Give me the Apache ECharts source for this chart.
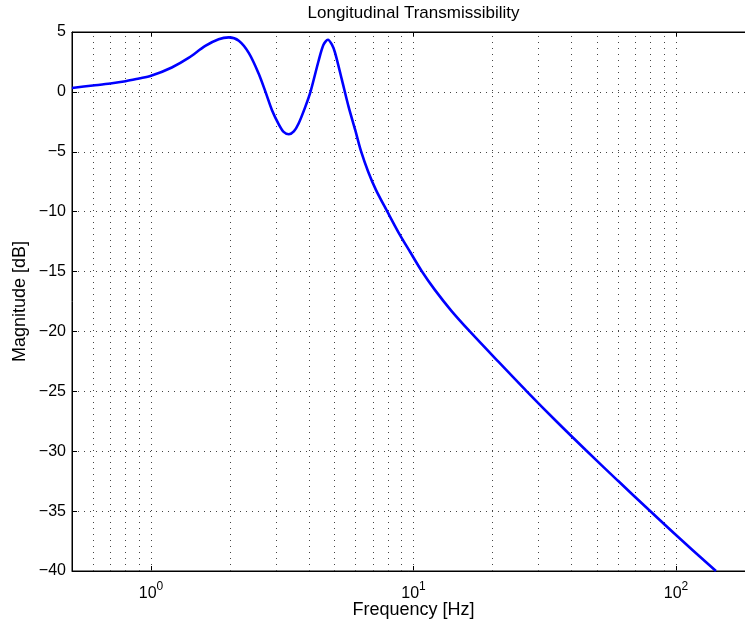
<!DOCTYPE html>
<html>
<head>
<meta charset="utf-8">
<script src="https://cdn.jsdelivr.net/npm/echarts@6/dist/echarts.min.js"></script>
<style>
html,body{margin:0;padding:0;background:#fff;}
#chart{width:745px;height:628px;}
</style>
</head>
<body>
<div id="chart"></div>
<script>
// Frequency [Hz] and magnitude [dB]
var freq = [0.5, 0.6, 0.7, 0.8, 0.9, 1.0, 1.2, 1.39, 1.61, 1.81, 1.98, 2.16, 2.36, 2.57, 2.73, 2.89, 3.07, 3.2, 3.35, 3.5, 3.65, 3.87, 4.05, 4.35, 4.54, 4.72, 4.89, 5.03, 5.34, 5.66, 6.0, 6.31, 6.72, 7.2, 7.95, 8.75, 9.7, 10.74, 12.08, 13.97, 16.39, 21, 27, 35, 45.3, 60, 78.4, 100, 142];
var mag  = [0.33, 0.53, 0.70, 0.89, 1.12, 1.34, 2.04, 2.84, 3.84, 4.40, 4.55, 4.27, 3.24, 1.54, 0.0, -1.53, -2.73, -3.34, -3.54, -3.30, -2.64, -1.25, 0.0, 2.6, 3.94, 4.35, 3.94, 3.24, 0.98, -1.25, -3.2, -4.95, -6.66, -8.2, -10.0, -11.7, -13.35, -14.95, -16.55, -18.3, -20.0, -22.5, -25.0, -27.5, -29.9, -32.45, -34.85, -37.0, -40.0];
var gridFreqs = [0.6, 0.7, 0.8, 0.9, 1, 2, 3, 4, 5, 6, 7, 8, 9, 10, 20, 30, 40, 50, 60, 70, 80, 90, 100, 200];
var yTicks = [-40, -35, -30, -25, -20, -15, -10, -5, 0, 5];

var FONT = 'Liberation Sans';
var chart = echarts.init(document.getElementById('chart'), null, {renderer: 'canvas'});
var lineData = freq.map(function (f, i) { return [f, mag[i]]; });
var dotted = {color: '#444', width: 1, type: [1, 5]};

function xLabel(v) {
  var e = Math.log10(v);
  var r = Math.round(e);
  if (Math.abs(e - r) > 1e-6) return '';
  return '{b|10}{s|' + r + '}';
}
var richX = {
  b: {fontSize: 16, fontFamily: FONT, color: '#000', verticalAlign: 'bottom', lineHeight: 22},
  s: {fontSize: 12, fontFamily: FONT, color: '#000', verticalAlign: 'bottom', padding: [0, 0, 9, 0]}
};

chart.setOption({
  animation: false,
  backgroundColor: '#fff',
  grid: {left: 72, top: 32, width: 683, bottom: 57, show: true, borderColor: '#000', borderWidth: 1,
         containLabel: false, outerBoundsMode: 'none'},
  xAxis: [{
    type: 'log', logBase: 10, min: 0.5, max: 200,
    position: 'bottom',
    name: 'Frequency [Hz]', nameLocation: 'middle', nameGap: 30, nameMoveOverlap: false,
    nameTextStyle: {fontSize: 18, fontFamily: FONT, color: '#000'},
    axisLine: {show: true, onZero: false, lineStyle: {color: '#000', width: 1}},
    axisTick: {show: true, inside: true, length: 5, lineStyle: {color: '#000'}},
    axisLabel: {show: true, margin: 9, formatter: xLabel, rich: richX},
    splitLine: {show: false}
  }, {
    type: 'log', logBase: 10, min: 0.5, max: 200,
    position: 'top',
    name: 'Longitudinal Transmissibility', nameLocation: 'middle', nameGap: 10, nameMoveOverlap: false,
    nameTextStyle: {fontSize: 17, fontFamily: FONT, color: '#000'},
    axisLine: {show: true, onZero: false, lineStyle: {color: '#000', width: 1}},
    axisTick: {show: true, inside: true, length: 5, lineStyle: {color: '#000'}},
    axisLabel: {show: false},
    splitLine: {show: false}
  }],
  yAxis: {
    type: 'value', min: yTicks[0], max: yTicks[yTicks.length - 1], interval: 5,
    name: 'Magnitude [dB]', nameLocation: 'middle', nameGap: 43, nameMoveOverlap: false,
    nameTextStyle: {fontSize: 18, fontFamily: FONT, color: '#000'},
    axisLine: {show: true, onZero: false, lineStyle: {color: '#000', width: 1}},
    axisTick: {show: true, inside: true, length: 5, lineStyle: {color: '#000'}},
    axisLabel: {fontSize: 16, fontFamily: FONT, color: '#000', margin: 6,
      formatter: function (v) { return String(v).replace('-', '\u2212'); }},
    splitLine: {show: true, lineStyle: dotted}
  },
  series: [{
    type: 'line', name: 'grid', data: [], z: 1, silent: true,
    markLine: {
      silent: true, symbol: 'none', animation: false,
      label: {show: false},
      lineStyle: dotted,
      data: gridFreqs.map(function (f) { return {xAxis: f}; })
    }
  }, {
    type: 'line', name: 'mag', data: lineData, z: 5,
    showSymbol: false, smooth: 0.3, clip: true,
    lineStyle: {color: '#0000ff', width: 2.6},
    itemStyle: {color: '#0000ff'}
  }]
});
</script>
</body>
</html>
